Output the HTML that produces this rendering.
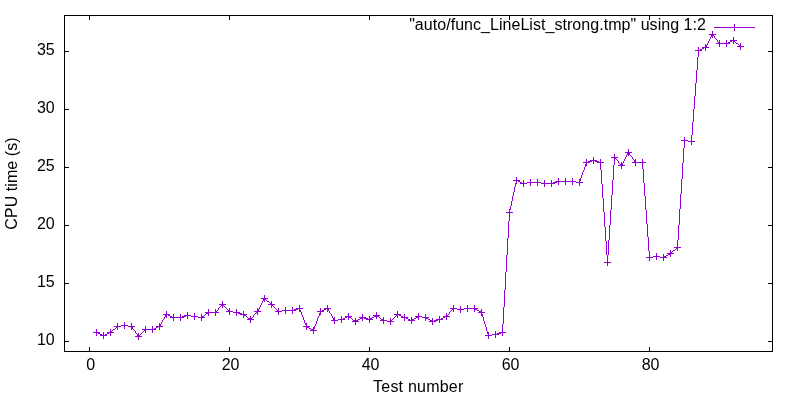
<!DOCTYPE html>
<html><head><meta charset="utf-8"><title>plot</title>
<style>
html,body{margin:0;padding:0;background:#fff;}
body{width:800px;height:400px;overflow:hidden;}
svg{display:block;}
text{font-family:"Liberation Sans",sans-serif;font-size:16px;fill:#000;}
</style></head><body>
<svg width="800" height="400" viewBox="0 0 800 400">
<rect width="800" height="400" fill="#fff"/>
<g shape-rendering="crispEdges" stroke="#000" stroke-width="1" fill="none">
<rect x="64.5" y="15.5" width="708" height="336"/>
<path d="M64 341.5H69M768 341.5H773"/>
<path d="M64 283.5H69M768 283.5H773"/>
<path d="M64 225.5H69M768 225.5H773"/>
<path d="M64 167.5H69M768 167.5H773"/>
<path d="M64 109.5H69M768 109.5H773"/>
<path d="M64 51.5H69M768 51.5H773"/>
<path d="M89.5 352V347M89.5 15V20"/>
<path d="M229.5 352V347M229.5 15V20"/>
<path d="M369.5 352V347M369.5 15V20"/>
<path d="M509.5 352V347M509.5 15V20"/>
<path d="M649.5 352V347M649.5 15V20"/>
</g>
<text x="54.7" y="344.7" text-anchor="end">10</text>
<text x="54.7" y="286.7" text-anchor="end">15</text>
<text x="54.7" y="228.7" text-anchor="end">20</text>
<text x="54.7" y="170.7" text-anchor="end">25</text>
<text x="54.7" y="112.7" text-anchor="end">30</text>
<text x="54.7" y="54.7" text-anchor="end">35</text>
<text x="90.6" y="370" text-anchor="middle">0</text>
<text x="230.6" y="370" text-anchor="middle">20</text>
<text x="370.6" y="370" text-anchor="middle">40</text>
<text x="510.6" y="370" text-anchor="middle">60</text>
<text x="650.6" y="370" text-anchor="middle">80</text>
<text x="418.3" y="391.7" text-anchor="middle" letter-spacing="0.22">Test number</text>
<text transform="translate(16.5,183.5) rotate(-90)" text-anchor="middle" letter-spacing="0.06">CPU time (s)</text>
<text x="706" y="30.3" text-anchor="end" letter-spacing="0.043">"auto/func_LineList_strong.tmp" using 1:2</text>
<g shape-rendering="crispEdges" stroke="#9400d3" stroke-width="1" fill="none">
<path d="M714 27.5H755"/>
<path d="M96 332.5h2M98 333.5h2M100 334.5h2M102 335.5h2M103 335.5h2M105 334.5h2M107 333.5h2M109 332.5h2M110 332.5h1M111 331.5h1M112 330.5h1M113 329.5h2M115 328.5h1M116 327.5h1M117 326.5h1M117 326.5h4M121 325.5h4M124 325.5h4M128 326.5h4M131.5 326v1M132.5 327v2M133.5 329v1M134.5 330v1M135.5 331v2M136.5 333v1M137.5 334v2M138.5 336v1M138 336.5h1M139 335.5h1M140 334.5h1M141 333.5h1M142 332.5h1M143 331.5h1M144 330.5h1M145 329.5h1M145 329.5h8M152 329.5h2M154 328.5h2M156 327.5h2M158 326.5h2M166.5 314v1M165.5 315v2M164.5 317v2M163.5 319v1M162.5 320v2M161.5 322v2M160.5 324v2M159.5 326v1M166 314.5h2M168 315.5h2M170 316.5h2M172 317.5h2M173 317.5h8M180 317.5h2M182 316.5h4M186 315.5h2M187 315.5h4M191 316.5h4M194 316.5h4M198 317.5h4M201 317.5h1M202 316.5h2M204 315.5h1M205 314.5h1M206 313.5h2M208 312.5h1M208 312.5h8M222.5 304v1M221.5 305v1M220.5 306v1M219.5 307v1M218.5 308v2M217.5 310v1M216.5 311v1M215.5 312v1M222 304.5h1M223 305.5h1M224 306.5h1M225 307.5h1M226 308.5h1M227 309.5h1M228 310.5h1M229 311.5h1M229 311.5h4M233 312.5h4M236 312.5h2M238 313.5h4M242 314.5h2M243 314.5h1M244 315.5h2M246 316.5h1M247 317.5h1M248 318.5h2M250 319.5h1M257.5 311v1M256.5 312v1M255.5 313v1M254.5 314v1M253.5 315v2M252.5 317v1M251.5 318v1M250.5 319v1M264.5 298v1M263.5 299v2M262.5 301v2M261.5 303v2M260.5 305v2M259.5 307v2M258.5 309v2M257.5 311v1M264 298.5h1M265 299.5h1M266 300.5h1M267 301.5h2M269 302.5h1M270 303.5h1M271 304.5h1M271 304.5h1M272 305.5h1M273 306.5h1M274 307.5h1M275 308.5h1M276 309.5h1M277 310.5h1M278 311.5h1M278 311.5h4M282 310.5h4M285 310.5h8M292 310.5h2M294 309.5h4M298 308.5h2M299.5 308v2M300.5 310v2M301.5 312v3M302.5 315v2M303.5 317v3M304.5 320v3M305.5 323v2M306.5 325v2M306 326.5h1M307 327.5h2M309 328.5h2M311 329.5h2M313 330.5h1M320.5 311v2M319.5 313v3M318.5 316v2M317.5 318v3M316.5 321v3M315.5 324v2M314.5 326v3M313.5 329v2M320 311.5h2M322 310.5h2M324 309.5h2M326 308.5h2M327.5 308v1M328.5 309v2M329.5 311v2M330.5 313v1M331.5 314v2M332.5 316v2M333.5 318v2M334.5 320v1M334 320.5h4M338 319.5h4M341 319.5h2M343 318.5h2M345 317.5h2M347 316.5h2M348 316.5h1M349 317.5h2M351 318.5h1M352 319.5h1M353 320.5h2M355 321.5h1M355 321.5h1M356 320.5h2M358 319.5h2M360 318.5h2M362 317.5h1M362 317.5h2M364 318.5h4M368 319.5h2M369 319.5h1M370 318.5h2M372 317.5h2M374 316.5h2M376 315.5h1M376 315.5h1M377 316.5h2M379 317.5h1M380 318.5h1M381 319.5h2M383 320.5h1M383 320.5h4M387 321.5h4M390 321.5h1M391 320.5h1M392 319.5h1M393 318.5h1M394 317.5h1M395 316.5h1M396 315.5h1M397 314.5h1M397 314.5h2M399 315.5h2M401 316.5h2M403 317.5h2M404 317.5h2M406 318.5h2M408 319.5h2M410 320.5h2M411 320.5h1M412 319.5h2M414 318.5h2M416 317.5h2M418 316.5h1M418 316.5h4M422 317.5h4M425 317.5h1M426 318.5h2M428 319.5h2M430 320.5h2M432 321.5h1M432 321.5h2M434 320.5h4M438 319.5h2M439 319.5h2M441 318.5h2M443 317.5h2M445 316.5h2M453.5 308v1M452.5 309v1M451.5 310v1M450.5 311v1M449.5 312v2M448.5 314v1M447.5 315v1M446.5 316v1M453 308.5h4M457 309.5h4M460 309.5h4M464 308.5h4M467 308.5h8M474 308.5h1M475 309.5h2M477 310.5h2M479 311.5h2M481 312.5h1M481.5 312v2M482.5 314v3M483.5 317v4M484.5 321v3M485.5 324v3M486.5 327v4M487.5 331v3M488.5 334v2M488 335.5h4M492 334.5h4M495 334.5h2M497 333.5h4M501 332.5h2M509.5 212v9M508.5 221v17M507.5 238v17M506.5 255v17M505.5 272v18M504.5 290v17M503.5 307v17M502.5 324v9M516.5 180v3M515.5 183v4M514.5 187v5M513.5 192v4M512.5 196v5M511.5 201v5M510.5 206v4M509.5 210v3M516 180.5h2M518 181.5h2M520 182.5h2M522 183.5h2M523 183.5h4M527 182.5h4M530 182.5h8M537 182.5h4M541 183.5h4M544 183.5h8M551 183.5h2M553 182.5h4M557 181.5h2M558 181.5h8M565 181.5h8M572 181.5h4M576 182.5h4M586.5 162v2M585.5 164v3M584.5 167v3M583.5 170v2M582.5 172v3M581.5 175v3M580.5 178v3M579.5 181v2M586 162.5h2M588 161.5h4M592 160.5h2M593 160.5h2M595 161.5h4M599 162.5h2M600.5 162v8M601.5 170v14M602.5 184v14M603.5 198v14M604.5 212v15M605.5 227v14M606.5 241v14M607.5 255v8M614.5 157v8M613.5 165v15M612.5 180v15M611.5 195v15M610.5 210v15M609.5 225v15M608.5 240v15M607.5 255v8M614.5 157v1M615.5 158v1M616.5 159v1M617.5 160v1M618.5 161v2M619.5 163v1M620.5 164v1M621.5 165v1M628.5 152v1M627.5 153v2M626.5 155v2M625.5 157v2M624.5 159v2M623.5 161v2M622.5 163v2M621.5 165v1M628.5 152v1M629.5 153v2M630.5 155v1M631.5 156v1M632.5 157v2M633.5 159v1M634.5 160v2M635.5 162v1M635 162.5h8M642.5 162v7M643.5 169v14M644.5 183v13M645.5 196v14M646.5 210v14M647.5 224v13M648.5 237v14M649.5 251v7M649 257.5h4M653 256.5h4M656 256.5h4M660 257.5h4M663 257.5h1M664 256.5h2M666 255.5h2M668 254.5h2M670 253.5h1M670 253.5h1M671 252.5h1M672 251.5h1M673 250.5h2M675 249.5h1M676 248.5h1M677 247.5h1M684.5 140v8M683.5 148v15M682.5 163v16M681.5 179v15M680.5 194v15M679.5 209v16M678.5 225v15M677.5 240v8M684 140.5h4M688 141.5h4M698.5 50v7M697.5 57v13M696.5 70v13M695.5 83v13M694.5 96v13M693.5 109v13M692.5 122v13M691.5 135v7M698 50.5h2M700 49.5h2M702 48.5h2M704 47.5h2M712.5 34v1M711.5 35v2M710.5 37v2M709.5 39v2M708.5 41v2M707.5 43v2M706.5 45v2M705.5 47v1M712.5 34v1M713.5 35v1M714.5 36v2M715.5 38v1M716.5 39v1M717.5 40v2M718.5 42v1M719.5 43v1M719 43.5h8M726 43.5h2M728 42.5h2M730 41.5h2M732 40.5h2M733 40.5h1M734 41.5h1M735 42.5h1M736 43.5h2M738 44.5h1M739 45.5h1M740 46.5h1"/>
<path d="M93 332.5h7M96.5 329v7M100 335.5h7M103.5 332v7M107 332.5h7M110.5 329v7M114 326.5h7M117.5 323v7M121 325.5h7M124.5 322v7M128 326.5h7M131.5 323v7M135 336.5h7M138.5 333v7M142 329.5h7M145.5 326v7M149 329.5h7M152.5 326v7M156 326.5h7M159.5 323v7M163 314.5h7M166.5 311v7M170 317.5h7M173.5 314v7M177 317.5h7M180.5 314v7M184 315.5h7M187.5 312v7M191 316.5h7M194.5 313v7M198 317.5h7M201.5 314v7M205 312.5h7M208.5 309v7M212 312.5h7M215.5 309v7M219 304.5h7M222.5 301v7M226 311.5h7M229.5 308v7M233 312.5h7M236.5 309v7M240 314.5h7M243.5 311v7M247 319.5h7M250.5 316v7M254 311.5h7M257.5 308v7M261 298.5h7M264.5 295v7M268 304.5h7M271.5 301v7M275 311.5h7M278.5 308v7M282 310.5h7M285.5 307v7M289 310.5h7M292.5 307v7M296 308.5h7M299.5 305v7M303 326.5h7M306.5 323v7M310 330.5h7M313.5 327v7M317 311.5h7M320.5 308v7M324 308.5h7M327.5 305v7M331 320.5h7M334.5 317v7M338 319.5h7M341.5 316v7M345 316.5h7M348.5 313v7M352 321.5h7M355.5 318v7M359 317.5h7M362.5 314v7M366 319.5h7M369.5 316v7M373 315.5h7M376.5 312v7M380 320.5h7M383.5 317v7M387 321.5h7M390.5 318v7M394 314.5h7M397.5 311v7M401 317.5h7M404.5 314v7M408 320.5h7M411.5 317v7M415 316.5h7M418.5 313v7M422 317.5h7M425.5 314v7M429 321.5h7M432.5 318v7M436 319.5h7M439.5 316v7M443 316.5h7M446.5 313v7M450 308.5h7M453.5 305v7M457 309.5h7M460.5 306v7M464 308.5h7M467.5 305v7M471 308.5h7M474.5 305v7M478 312.5h7M481.5 309v7M485 335.5h7M488.5 332v7M492 334.5h7M495.5 331v7M499 332.5h7M502.5 329v7M506 212.5h7M509.5 209v7M513 180.5h7M516.5 177v7M520 183.5h7M523.5 180v7M527 182.5h7M530.5 179v7M534 182.5h7M537.5 179v7M541 183.5h7M544.5 180v7M548 183.5h7M551.5 180v7M555 181.5h7M558.5 178v7M562 181.5h7M565.5 178v7M569 181.5h7M572.5 178v7M576 182.5h7M579.5 179v7M583 162.5h7M586.5 159v7M590 160.5h7M593.5 157v7M597 162.5h7M600.5 159v7M604 262.5h7M607.5 259v7M611 157.5h7M614.5 154v7M618 165.5h7M621.5 162v7M625 152.5h7M628.5 149v7M632 162.5h7M635.5 159v7M639 162.5h7M642.5 159v7M646 257.5h7M649.5 254v7M653 256.5h7M656.5 253v7M660 257.5h7M663.5 254v7M667 253.5h7M670.5 250v7M674 247.5h7M677.5 244v7M681 140.5h7M684.5 137v7M688 141.5h7M691.5 138v7M695 50.5h7M698.5 47v7M702 47.5h7M705.5 44v7M709 34.5h7M712.5 31v7M716 43.5h7M719.5 40v7M723 43.5h7M726.5 40v7M730 40.5h7M733.5 37v7M737 46.5h7M740.5 43v7M731 27.5h7M734.5 24v7"/>
</g>
</svg>
</body></html>
